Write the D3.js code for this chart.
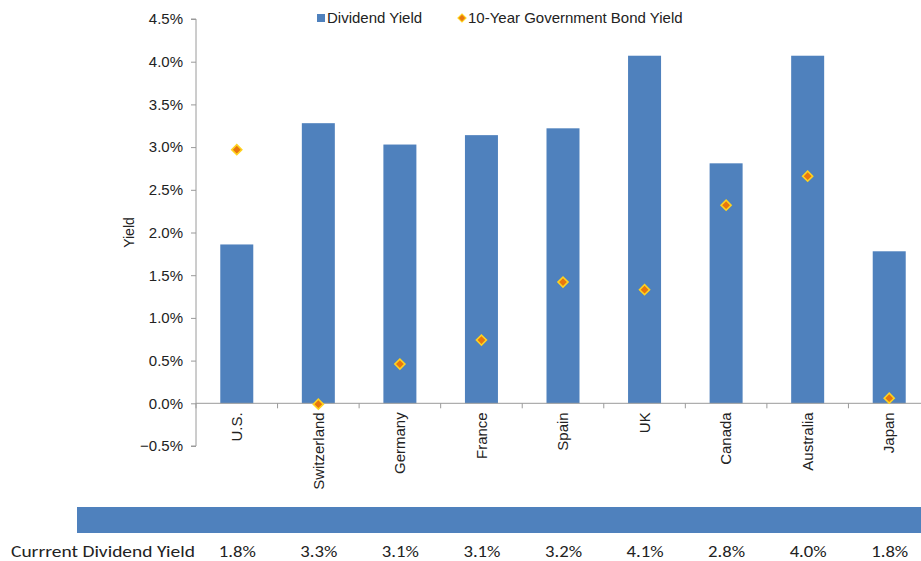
<!DOCTYPE html>
<html><head><meta charset="utf-8">
<script src="https://cdn.jsdelivr.net/npm/d3@7"></script>
<style>body{margin:0;background:#fff;overflow:hidden}svg{display:block}</style>
</head><body>
<svg id="c" width="921" height="561"></svg>
<script>
const categories = ["U.S.","Switzerland","Germany","France","Spain","UK","Canada","Australia","Japan"];
const dividendYield = [1.86,3.28,3.03,3.14,3.22,4.07,2.81,4.07,1.78];
const bondYield = [2.97,-0.01,0.46,0.74,1.42,1.33,2.32,2.66,0.06];
const tableLabels = ["1.8%","3.3%","3.1%","3.1%","3.2%","4.1%","2.8%","4.0%","1.8%"];
const yTicks = [-0.5,0,0.5,1,1.5,2,2.5,3,3.5,4,4.5];

const svg = d3.select("#c");
const pL = 196, pR = 930, pT = 19, pB = 446;
const xb = d3.scaleBand().domain(categories).range([pL,pR]);
const y = d3.scaleLinear().domain([-0.5,4.5]).range([pB,pT]);
const axisCol = "#9a9a9a", txt = "#222";
const font = "Arial, 'Liberation Sans', sans-serif";
const cx = d => xb(d) + xb.bandwidth()/2;

// bars
svg.append("g").selectAll("rect").data(categories).join("rect")
  .attr("x", d => cx(d) - 16.5)
  .attr("width", 33)
  .attr("y", (d,i) => y(dividendYield[i]))
  .attr("height", (d,i) => y(0) - y(dividendYield[i]))
  .attr("fill", "#4F81BD");

// y axis
const ya = svg.append("g").attr("transform",`translate(${pL},0)`)
  .call(d3.axisLeft(y).tickValues(yTicks).tickSize(5).tickPadding(8).tickFormat(d => d3.format(".1f")(d) + "%"));
ya.select(".domain").attr("stroke", axisCol).attr("d", `M-5,${pB}H0V${pT}H-5`);
ya.selectAll(".tick line").attr("stroke", axisCol);
ya.selectAll("text").attr("font-family", font).attr("font-size", 15).attr("fill", txt);

// x axis line with category boundary ticks
const xg = svg.append("g");
xg.append("line").attr("x1", pL).attr("x2", pR).attr("y1", y(0)).attr("y2", y(0)).attr("stroke", axisCol);
xg.selectAll("line.t").data(d3.range(categories.length + 1)).join("line").attr("class","t")
  .attr("x1", i => pL + i*xb.bandwidth()).attr("x2", i => pL + i*xb.bandwidth())
  .attr("y1", y(0)).attr("y2", y(0) + 5).attr("stroke", axisCol);
xg.selectAll("text").data(categories).join("text")
  .attr("transform", d => `translate(${cx(d)},${y(0)+9}) rotate(-90)`)
  .attr("text-anchor","end").attr("dy","0.35em")
  .attr("font-family", font).attr("font-size", 15).attr("fill", txt)
  .text(d => d);

// diamonds (square rotated 45°)
const diamond = d3.symbol().type(d3.symbolSquare).size(50);
svg.append("g").selectAll("path").data(categories).join("path")
  .attr("d", diamond)
  .attr("transform", (d,i) => `translate(${cx(d)},${y(bondYield[i])}) rotate(45)`)
  .attr("fill", "#E8770E").attr("stroke", "#FFD21F").attr("stroke-width", 1.6);

// y label
svg.append("text").attr("transform", `translate(134,${(pT+pB)/2}) rotate(-90)`)
  .attr("text-anchor","middle").attr("font-family", font).attr("font-size", 14).attr("fill", txt).text("Yield");

// legend
const lg = svg.append("g");
lg.append("rect").attr("x",317).attr("y",14).attr("width",8).attr("height",8).attr("fill","#4F81BD");
lg.append("text").attr("x",327).attr("y",23).attr("font-family",font).attr("font-size",15).attr("fill",txt).text("Dividend Yield");
lg.append("path").attr("d", d3.symbol().type(d3.symbolSquare).size(32)).attr("transform","translate(462,18) rotate(45)")
  .attr("fill","#E8770E").attr("stroke","#FFD21F").attr("stroke-width",1.2);
lg.append("text").attr("x",468).attr("y",23).attr("font-family",font).attr("font-size",15).attr("fill",txt).text("10-Year Government Bond Yield");

// bottom band and table
svg.append("rect").attr("x",77).attr("y",507).attr("width",850).attr("height",26).attr("fill","#4F81BD");
const tfont = "Carlito, Lato, 'Open Sans', sans-serif";
svg.append("text").attr("x",11).attr("y",557).attr("font-family",tfont).attr("font-size",17).attr("fill","#222")
  .attr("textLength",184).attr("lengthAdjust","spacingAndGlyphs").text("Currrent Dividend Yield");
svg.append("g").selectAll("text").data(categories).join("text")
  .attr("x", d => cx(d) - 18).attr("y",557)
  .attr("font-family",tfont).attr("font-size",17).attr("fill","#222")
  .attr("textLength",37).attr("lengthAdjust","spacingAndGlyphs")
  .text((d,i) => tableLabels[i]);
</script>
</body></html>
